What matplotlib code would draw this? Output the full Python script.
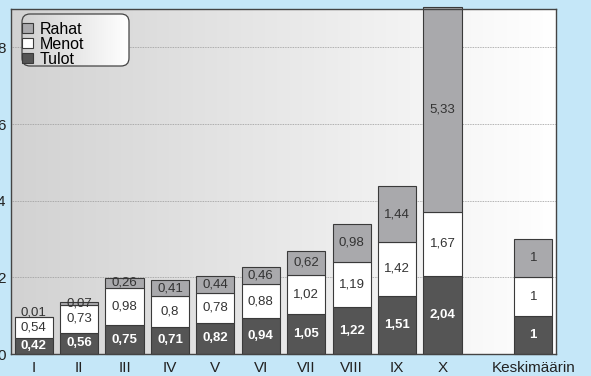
import matplotlib.pyplot as plt
import numpy as np
from matplotlib.colors import LinearSegmentedColormap
from matplotlib.patches import FancyBboxPatch
from matplotlib.transforms import IdentityTransform

plt.rcParams['font.family'] = ['Liberation Sans', 'DejaVu Sans']

categories = ["I", "II", "III", "IV", "V", "VI", "VII", "VIII", "IX", "X", "Keskimäärin"]
tulot = [0.42, 0.56, 0.75, 0.71, 0.82, 0.94, 1.05, 1.22, 1.51, 2.04, 1]
menot = [0.54, 0.73, 0.98, 0.80, 0.78, 0.88, 1.02, 1.19, 1.42, 1.67, 1]
rahat = [0.01, 0.07, 0.26, 0.41, 0.44, 0.46, 0.62, 0.98, 1.44, 5.33, 1]

# gap between the deciles and the average bar
x = np.r_[np.arange(10), 11]

def fi(v):
    return f"{v:g}".replace(".", ",")

W, H = 591, 376
fig = plt.figure(figsize=(W / 100, H / 100), dpi=100, facecolor="#c5e7f8")
ax = fig.add_axes([11 / W, 22 / H, 545 / W, 345 / H])

# horizontal grey-to-white background
cmap = LinearSegmentedColormap.from_list("bg", ["#d2d2d2", "#ffffff"])
grad = np.linspace(0, 1, 256).reshape(1, -1)
ax.imshow(grad, cmap=cmap, aspect="auto", extent=[0, 1, 0, 1],
          transform=ax.transAxes, zorder=0)

ax.set_xlim(-0.5, 11.5)
ax.set_ylim(0, 9)
ax.set_yticks([0, 2, 4, 6, 8])
ax.yaxis.grid(True, linestyle=(0, (1, 1)), color="#9a9a9a", linewidth=0.6, zorder=1)
ax.set_axisbelow(True)

w = 0.84
edge = "#3a3a3a"
b1 = ax.bar(x, tulot, w, color="#555555", edgecolor=edge, linewidth=0.8,
            label="Tulot", zorder=3, clip_on=False)
b2 = ax.bar(x, menot, w, bottom=tulot, color="#ffffff", edgecolor=edge,
            linewidth=0.8, label="Menot", zorder=3, clip_on=False)
bottom3 = np.add(tulot, menot)
b3 = ax.bar(x, rahat, w, bottom=bottom3, color="#a9a9ac", edgecolor=edge,
            linewidth=0.8, label="Rahat", zorder=3, clip_on=False)

for xi, t, m, r, b in zip(x, tulot, menot, rahat, bottom3):
    ax.text(xi, t / 2, fi(t), ha="center", va="center", color="white",
            fontsize=9.5, fontweight="bold", zorder=4)
    ax.text(xi, t + m / 2, fi(m), ha="center", va="center", color="#333333",
            fontsize=9.5, zorder=4)
    ry = b + r / 2
    if r < 0.05:
        ry += 0.12
    ax.text(xi, ry, fi(r), ha="center", va="center", color="#333333",
            fontsize=9.5, zorder=4)

ax.set_xticks(x)
ax.set_xticklabels(categories)
ax.tick_params(axis="both", length=0, labelsize=11, colors="#222222")
ax.tick_params(axis="x", pad=5)
ax.tick_params(axis="y", pad=4)

for s in ax.spines.values():
    s.set_color("#444444")
    s.set_linewidth(1.0)
    s.set_zorder(5)

# rounded legend box with its own grey-to-white fill (pixel coordinates)
lx0, ly0, lw, lh = 22, H - 66, 107, 52
box = FancyBboxPatch((lx0, ly0), lw, lh, boxstyle="round,pad=0,rounding_size=8",
                     transform=IdentityTransform(), facecolor="none",
                     edgecolor="#444444", linewidth=0.9, zorder=7, clip_on=False)
ax.add_patch(box)
ext = [(lx0 - 11) / 545, (lx0 + lw - 11) / 545,
       (ly0 - 22) / 345, (ly0 + lh - 22) / 345]
lgrad = ax.imshow(grad, cmap=LinearSegmentedColormap.from_list("lg", ["#d0d0d0", "#ffffff"]),
                  aspect="auto", extent=ext, transform=ax.transAxes, zorder=6)
lgrad.set_clip_path(box)

leg = ax.legend(handles=[b3, b2, b1], labels=["Rahat", "Menot", "Tulot"],
                loc="upper left", bbox_to_anchor=(0.012, 0.975), fontsize=11.5,
                frameon=False, handlelength=0.7, handleheight=0.5,
                handletextpad=0.45, labelspacing=0.0, borderpad=0.25,
                borderaxespad=0)
leg.set_zorder(8)

fig.savefig("out.png", dpi=100, facecolor=fig.get_facecolor())
